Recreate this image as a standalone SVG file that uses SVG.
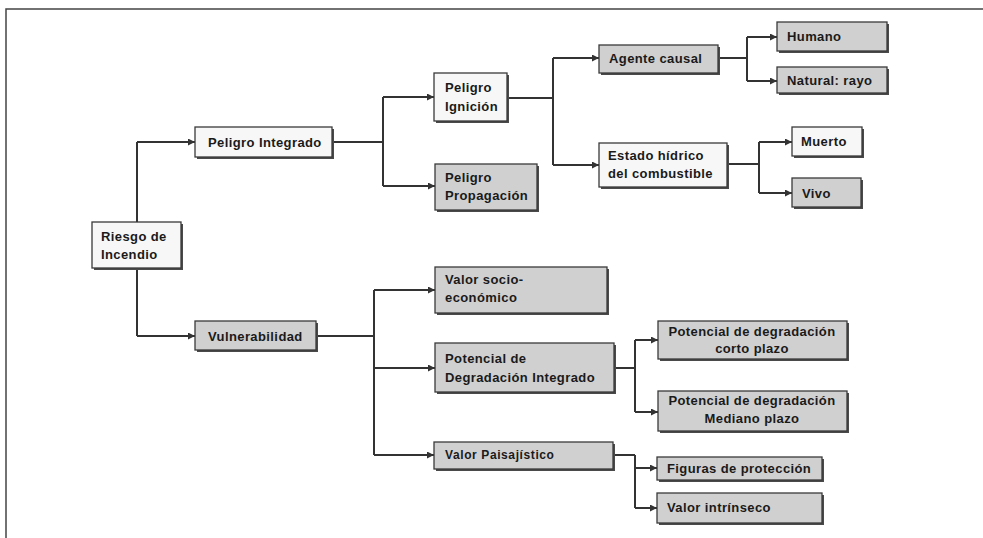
<svg xmlns="http://www.w3.org/2000/svg" width="983" height="538" viewBox="0 0 983 538">
<defs>
<style>
.bx{stroke:#3a3a3a;stroke-width:1.3}
.lt{fill:#f7f7f7}
.dk{fill:#d0d0d0}
.sh{fill:#4a4a4a}
.t{font-family:"Liberation Sans",Arial,sans-serif;font-weight:bold;font-size:13px;letter-spacing:0.4px;fill:#1a1a1a}
.c{text-anchor:middle}
.cn{fill:none;stroke:#333;stroke-width:2}
.ar{fill:none;stroke:#333;stroke-width:2;marker-end:url(#ah)}
</style>
<marker id="ah" markerUnits="userSpaceOnUse" markerWidth="8" markerHeight="8" refX="7" refY="3.5" orient="auto"><path d="M0,0 L7,3.5 L0,7 z" fill="#333"/></marker>
</defs>
<rect width="983" height="538" fill="#ffffff"/>
<path d="M6,538 V9 H983" fill="none" stroke="#444" stroke-width="1.5"/>
<g id="connectors">
<path class="cn" d="M137,222 V142"/><path class="ar" d="M137,142 H195"/>
<path class="cn" d="M137,268 V336"/><path class="ar" d="M137,336 H195"/>
<path class="cn" d="M332,142 H383 M383,97 V186"/>
<path class="ar" d="M383,97 H434"/><path class="ar" d="M383,186 H435"/>
<path class="cn" d="M507,98 H553 M553,58 V165"/>
<path class="ar" d="M553,58 H599"/><path class="ar" d="M553,165 H599"/>
<path class="cn" d="M718,58 H747 M747,37 V81"/>
<path class="ar" d="M747,37 H777"/><path class="ar" d="M747,81 H777"/>
<path class="cn" d="M727,164 H759 M759,142 V193"/>
<path class="ar" d="M759,142 H792"/><path class="ar" d="M759,193 H792"/>
<path class="cn" d="M316,336 H374 M374,290 V455"/>
<path class="ar" d="M374,290 H435"/><path class="ar" d="M374,368 H435"/><path class="ar" d="M374,455 H434"/>
<path class="cn" d="M614,368 H635 M635,340 V412"/>
<path class="ar" d="M635,340 H658"/><path class="ar" d="M635,412 H658"/>
<path class="cn" d="M613,455 H635 M635,455 V508"/>
<path class="ar" d="M635,468 H657"/><path class="ar" d="M635,508 H657"/>
</g>
<g id="riesgo"><rect class="sh" x="94" y="224" width="89" height="46"/><rect class="bx lt" x="92" y="222" width="89" height="46"/><text class="t" x="101" y="241">Riesgo de</text><text class="t" x="101" y="259">Incendio</text></g>
<g id="peligro-integrado"><rect class="sh" x="197" y="129" width="137" height="30"/><rect class="bx lt" x="195" y="127" width="137" height="30"/><text class="t" x="208" y="147">Peligro Integrado</text></g>
<g id="vulnerabilidad"><rect class="sh" x="197" y="323" width="121" height="29"/><rect class="bx dk" x="195" y="321" width="121" height="29"/><text class="t" x="208" y="341">Vulnerabilidad</text></g>
<g id="peligro-ignicion"><rect class="sh" x="436" y="75" width="73" height="48"/><rect class="bx lt" x="434" y="73" width="73" height="48"/><text class="t" x="445" y="92">Peligro</text><text class="t" x="445" y="111">Ignición</text></g>
<g id="peligro-propagacion"><rect class="sh" x="437" y="166" width="102" height="46"/><rect class="bx dk" x="435" y="164" width="102" height="46"/><text class="t" x="445" y="182">Peligro</text><text class="t" x="445" y="200">Propagación</text></g>
<g id="agente-causal"><rect class="sh" x="601" y="47" width="119" height="28"/><rect class="bx dk" x="599" y="45" width="119" height="28"/><text class="t" x="609" y="63">Agente causal</text></g>
<g id="estado-hidrico"><rect class="sh" x="601" y="145" width="128" height="44"/><rect class="bx lt" x="599" y="143" width="128" height="44"/><text class="t" x="608" y="160">Estado hídrico</text><text class="t" x="608" y="178">del combustible</text></g>
<g id="humano"><rect class="sh" x="779" y="24" width="110" height="29"/><rect class="bx dk" x="777" y="22" width="110" height="29"/><text class="t" x="787" y="41">Humano</text></g>
<g id="natural-rayo"><rect class="sh" x="779" y="69" width="110" height="26"/><rect class="bx dk" x="777" y="67" width="110" height="26"/><text class="t" x="787" y="85">Natural: rayo</text></g>
<g id="muerto"><rect class="sh" x="794" y="129" width="70" height="29"/><rect class="bx lt" x="792" y="127" width="70" height="29"/><text class="t" x="801" y="146">Muerto</text></g>
<g id="vivo"><rect class="sh" x="794" y="180" width="69" height="29"/><rect class="bx dk" x="792" y="178" width="69" height="29"/><text class="t" x="802" y="198">Vivo</text></g>
<g id="valor-socio"><rect class="sh" x="437" y="269" width="172" height="46"/><rect class="bx dk" x="435" y="267" width="172" height="46"/><text class="t" x="445" y="284">Valor socio-</text><text class="t" x="445" y="302">económico</text></g>
<g id="potencial-integrado"><rect class="sh" x="437" y="345" width="179" height="49"/><rect class="bx dk" x="435" y="343" width="179" height="49"/><text class="t" x="445" y="363">Potencial de</text><text class="t" x="445" y="382">Degradación Integrado</text></g>
<g id="potencial-corto"><rect class="sh" x="660" y="323" width="189" height="38"/><rect class="bx dk" x="658" y="321" width="189" height="38"/><text class="t c" x="752" y="336">Potencial de degradación</text><text class="t c" x="752" y="353">corto plazo</text></g>
<g id="potencial-mediano"><rect class="sh" x="660" y="393" width="189" height="40"/><rect class="bx dk" x="658" y="391" width="189" height="40"/><text class="t c" x="752" y="405">Potencial de degradación</text><text class="t c" x="752" y="423">Mediano plazo</text></g>
<g id="valor-paisajistico"><rect class="sh" x="436" y="444" width="179" height="27"/><rect class="bx dk" x="434" y="442" width="179" height="27"/><text class="t" x="445" y="459" style="font-size:12px;letter-spacing:0.6px">Valor Paisajístico</text></g>
<g id="figuras"><rect class="sh" x="659" y="459" width="165" height="23"/><rect class="bx dk" x="657" y="457" width="165" height="23"/><text class="t" x="667" y="473">Figuras de protección</text></g>
<g id="valor-intrinseco"><rect class="sh" x="659" y="495" width="165" height="30"/><rect class="bx dk" x="657" y="493" width="165" height="30"/><text class="t" x="667" y="512">Valor intrínseco</text></g>
</svg>
